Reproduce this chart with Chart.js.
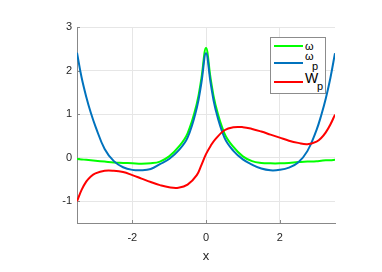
<!DOCTYPE html>
<html>
<head>
<meta charset="utf-8">
<script src="https://cdn.jsdelivr.net/npm/chart.js@4/dist/chart.umd.min.js"></script>
<style>
  body { margin: 0; background: #fff; }
  #wrap { position: relative; width: 382px; height: 272px; }
  #legend { position: absolute; left: 270px; top: 37px; width: 54px; height: 55px; border: 1px solid #8c8c8c; background: #fff; font-family: 'Liberation Sans', Arial, sans-serif; color: #000; }
  #legend .ln { position: absolute; left: 3px; width: 29px; height: 2px; }
  #legend span { position: absolute; line-height: 1; white-space: nowrap; }
</style>
</head>
<body>
<div id="wrap">
  <canvas id="chart" width="382" height="272"></canvas>
  <div id="legend"></div>
</div>
<script>
// === data ===
const xs = [-3.5, -3.375, -3.25, -3.125, -3, -2.75, -2.5, -2.25, -2, -1.75, -1.5, -1.25, -1, -0.75, -0.5, -0.25, -0.125,
            0, 0.125, 0.25, 0.5, 0.75, 1, 1.25, 1.5, 1.75, 2, 2.25, 2.5, 2.75, 3, 3.125, 3.25, 3.375, 3.5];
const omega = [-0.03, -0.04, -0.05, -0.06, -0.07, -0.09, -0.11, -0.12, -0.13, -0.14, -0.13, -0.09, 0.03, 0.24, 0.56, 1.24, 1.82,
               2.52, 1.82, 1.24, 0.56, 0.24, 0.03, -0.08, -0.12, -0.13, -0.13, -0.12, -0.10, -0.09, -0.08, -0.07, -0.06, -0.06, -0.05];
const omegaP = [2.41, 1.84, 1.40, 1.03, 0.72, 0.20, -0.08, -0.22, -0.28, -0.29, -0.26, -0.15, -0.03, 0.16, 0.46, 1.14, 1.72,
                2.40, 1.72, 1.14, 0.46, 0.15, -0.04, -0.16, -0.25, -0.29, -0.28, -0.23, -0.11, 0.15, 0.64, 0.97, 1.36, 1.83, 2.40];
const Wp = [-1.0, -0.74, -0.55, -0.43, -0.36, -0.30, -0.30, -0.33, -0.40, -0.48, -0.56, -0.63, -0.68, -0.69, -0.62, -0.40, -0.17,
            0.08, 0.27, 0.42, 0.63, 0.70, 0.70, 0.66, 0.60, 0.53, 0.46, 0.39, 0.34, 0.31, 0.37, 0.45, 0.58, 0.76, 0.99];
const xTicks = [-2, 0, 2];
const yTicks = [-1, 0, 1, 2, 3];

const green = '#00ff00';
const blue = '#0072bd';
const red = '#ff0000';
const axisColor = '#888888';
const textColor = '#262626';
const gridColor = '#e6e6e6';

const pts = ys => xs.map((x, i) => ({ x: x, y: ys[i] }));

// small inward ticks, matlab style
const innerTicks = {
    id: 'innerTicks',
    beforeDatasetsDraw(chart) {
        const { ctx, chartArea: a, scales: { x, y } } = chart;
        ctx.save();
        ctx.strokeStyle = axisColor;
        ctx.lineWidth = 1;
        ctx.beginPath();
        x.ticks.forEach(t => {
            const px = Math.round(x.getPixelForValue(t.value)) + 0.5;
            ctx.moveTo(px, a.bottom); ctx.lineTo(px, a.bottom - 3);
        });
        y.ticks.forEach(t => {
            const py = Math.round(y.getPixelForValue(t.value)) + 0.5;
            ctx.moveTo(a.left, py); ctx.lineTo(a.left + 3, py);
        });
        ctx.stroke();
        ctx.restore();
    }
};

new Chart(document.getElementById('chart'), {
    type: 'line',
    data: {
        datasets: [
            { label: 'ω', data: pts(omega), borderColor: green, order: 2 },
            { label: 'ωp', data: pts(omegaP), borderColor: blue, order: 1 },
            { label: 'Wp', data: pts(Wp), borderColor: red, order: 0 }
        ]
    },
    options: {
        responsive: false,
        animation: false,
        layout: { padding: { left: 0, top: 27, right: 47, bottom: 0 } },
        elements: {
            line: { borderWidth: 2, tension: 0.4, fill: false },
            point: { radius: 0 }
        },
        plugins: { legend: { display: false }, tooltip: { enabled: false } },
        scales: {
            x: {
                type: 'linear', min: -3.5, max: 3.5,
                afterBuildTicks: s => { s.ticks = xTicks.map(v => ({ value: v })); },
                afterFit: s => { s.height = 49; },
                grid: { color: gridColor, drawTicks: false },
                border: { color: axisColor },
                ticks: { color: textColor, padding: 8, font: { family: "'Liberation Sans', Arial, sans-serif", size: 11 } },
                title: { display: true, text: 'x', color: textColor, padding: { top: 0, bottom: 8 }, font: { family: "'Liberation Sans', Arial, sans-serif", size: 13 } }
            },
            y: {
                type: 'linear', min: -1.5, max: 3,
                afterBuildTicks: s => { s.ticks = yTicks.map(v => ({ value: v })); },
                afterFit: s => { s.width = 77; },
                grid: { color: gridColor, drawTicks: false },
                border: { color: axisColor },
                ticks: { color: textColor, padding: 5, font: { family: "'Liberation Sans', Arial, sans-serif", size: 11 } }
            }
        }
    },
    plugins: [innerTicks]
});

// legend with subscripts, positioned like the original
const legendRows = [
    { color: green, lineTop: 7, parts: [{ t: 'ω', left: 34, top: 3, size: 11 }] },
    { color: blue, lineTop: 24, parts: [{ t: 'ω', left: 34, top: 13, size: 11 }, { t: 'p', left: 41, top: 23, size: 11 }] },
    { color: red, lineTop: 43, parts: [{ t: 'W', left: 34, top: 33, size: 14 }, { t: 'p', left: 46, top: 43, size: 11 }] }
];
const legend = document.getElementById('legend');
legendRows.forEach(r => {
    const ln = document.createElement('div');
    ln.className = 'ln';
    ln.style.top = r.lineTop + 'px';
    ln.style.background = r.color;
    legend.appendChild(ln);
    r.parts.forEach(p => {
        const s = document.createElement('span');
        s.textContent = p.t;
        s.style.left = p.left + 'px';
        s.style.top = p.top + 'px';
        s.style.fontSize = p.size + 'px';
        legend.appendChild(s);
    });
});
</script>
</body>
</html>
